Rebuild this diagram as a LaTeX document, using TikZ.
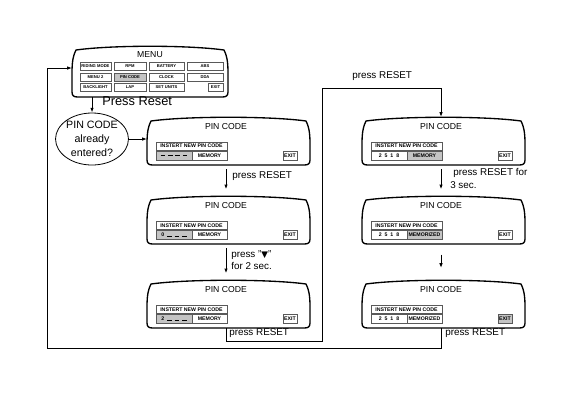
\documentclass[tikz,border=0pt]{standalone}
\usepackage{fontspec}
\setmainfont{Liberation Sans}
\newfontfamily\symfnt{DejaVu Sans}
\usetikzlibrary{arrows.meta,shapes.geometric,calc}
\definecolor{lg}{RGB}{196,196,196}
\newcommand\dsh{\rule[-0.2pt]{3.4pt}{0.55pt}}
\newcommand\gp{\hspace{2.2pt}}
\begin{document}
\begin{tikzpicture}[x=0.75pt,y=-0.75pt,
  conn/.style={line width=0.7pt},
  arr/.style={conn,-{Latex[length=3.6pt,width=2.6pt]}},
  panel/.style={line width=1pt,line join=round},
  ibox/.style={draw=black!65,line width=0.5pt},
  tiny/.style={font=\fontsize{3.9}{4}\selectfont\bfseries,inner sep=0},
  ctxt/.style={font=\fontsize{3.1}{4}\selectfont\bfseries,inner sep=0},
  lbl/.style={font=\fontsize{7.4}{8}\selectfont,inner sep=0,anchor=west},
  pics/frame/.style 2 args={code={
    \draw[panel] (4,4) .. controls (40,-1) and (#1-40,-1) .. (#1-4,4)
       .. controls (#1,12) and (#1,20) .. (#1,30) -- (#1,#2-5)
       .. controls (#1,#2-1) and (#1-2,#2) .. (#1-6,#2) -- (6,#2)
       .. controls (2,#2) and (0,#2-1) .. (0,#2-5) -- (0,30)
       .. controls (0,20) and (0,12) .. (4,4) -- cycle;
  }},
  pics/lcd/.style n args={5}{code={
    \pic (-f) at (0,0) {frame={163}{48}};
    \node[font=\fontsize{6.5}{7}\selectfont,inner sep=0] (-t) at (79,10) {PIN CODE};
    \draw[ibox] (9,25) rectangle (80,33);
    \node[tiny] (-a) at (44.5,29.2) {INSTERT NEW PIN CODE};
    \draw[ibox,fill=#2] (9,34) rectangle (45,43);
    \node[tiny] (-b) at (27,38.7) {#1};
    \draw[ibox,fill=#4] (45,34) rectangle (80,43);
    \node[tiny] (-c) at (62.5,38.7) {#3};
    \draw[ibox,fill=#5] (136,34) rectangle (150,43);
    \node[tiny] (-d) at (143,38.7) {EXIT};
    \coordinate (-in) at (79,0);
    \coordinate (-out) at (79,48);
    \coordinate (-left) at (0,25);
  }}]
\useasboundingbox (0,0) rectangle (573,405);

% menu
\pic (menu) at (72,46) {frame={156}{51}};
\node[font=\fontsize{6.5}{7}\selectfont,inner sep=0] (mt) at (150,55) {MENU};
\draw[ibox] (80,62) rectangle (111,70);   \node[ctxt] (m11) at (95.5,66.2) {RIDING MODE};
\draw[ibox] (114,62) rectangle (146,70);  \node[ctxt] (m12) at (130,66.2) {RPM};
\draw[ibox] (149,62) rectangle (184,70);  \node[ctxt] (m13) at (166.5,66.2) {BATTERY};
\draw[ibox] (187,62) rectangle (223,70);  \node[ctxt] (m14) at (205,66.2) {ABS};
\draw[ibox] (80,73) rectangle (111,81);   \node[ctxt] (m21) at (95.5,77.2) {MENU 2};
\draw[ibox,fill=lg] (114,73) rectangle (146,81);  \node[ctxt] (m22) at (130,77.2) {PIN CODE};
\draw[ibox] (149,73) rectangle (184,81);  \node[ctxt] (m23) at (166.5,77.2) {CLOCK};
\draw[ibox] (187,73) rectangle (223,81);  \node[ctxt] (m24) at (205,77.2) {DDA};
\draw[ibox] (80,83) rectangle (111,91);   \node[ctxt] (m31) at (95.5,87.2) {BACKLIGHT};
\draw[ibox] (114,83) rectangle (146,91);  \node[ctxt] (m32) at (130,87.2) {LAP};
\draw[ibox] (149,83) rectangle (184,91);  \node[ctxt] (m33) at (166.5,87.2) {SET UNITS};
\draw[ibox] (208,83) rectangle (223,91);  \node[ctxt] (m34) at (215.5,87.2) {EXIT};
\coordinate (menuw) at (72,68);
\coordinate (menub) at (92,97);
\node[font=\fontsize{9.6}{10}\selectfont,inner sep=0,anchor=west] (pr) at (102,101) {Press Reset};

% question
\node[draw,ellipse,line width=0.6pt,minimum width=52pt,minimum height=39pt,inner sep=0,
  align=center,font=\fontsize{8}{10.5}\selectfont] (q) at (92,139) {PIN CODE\\already\\entered?};
\draw[arr] (menub) -- (q.north);

% screens
\pic (s1) at (147,117) {lcd={\dsh\gp\dsh\gp\dsh\gp\dsh}{lg}{MEMORY}{white}{white}};
\pic (s2) at (147,196) {lcd={0\gp\dsh\gp\dsh\gp\dsh}{lg}{MEMORY}{white}{white}};
\pic (s3) at (147,280) {lcd={2\gp\dsh\gp\dsh\gp\dsh}{lg}{MEMORY}{white}{white}};
\pic (s4) at (362,117) {lcd={2\gp 5\gp 1\gp 8}{white}{MEMORY}{lg}{white}};
\pic (s5) at (362,196) {lcd={2\gp 5\gp 1\gp 8}{white}{MEMORIZED}{lg}{white}};
\pic (s6) at (362,280) {lcd={2\gp 5\gp 1\gp 8}{white}{MEMORIZED}{white}{lg}};

\draw[arr] (q.east) -- (q.east -| s1-left);

\draw[arr,shorten <=3pt,shorten >=5pt] (s1-out) -- (s2-in);
\node[lbl] (t1) at (232,176) {press RESET};
\draw[arr,shorten <=3pt,shorten >=5pt] (s2-out) -- (s3-in);
\node[lbl] (t2) at (231,255) {press "{\symfnt\fontsize{6.5}{8}\selectfont ▼}"};
\node[lbl] (t3) at (231,266) {for 2 sec.};

\coordinate (c1) at (322,341);
\coordinate (c2) at (322,88);
\draw[arr] (s3-out) |- (c1) -- (c2) -| (s4-in);
\node[lbl] (t4) at (229,333) {press RESET};
\node[lbl] (t5) at (352,76) {press RESET};

\draw[arr,shorten <=3pt,shorten >=5pt] (s4-out) -- (s5-in);
\node[lbl] (t6) at (453,173) {press RESET for};
\node[lbl] (t7) at (450,185) {3 sec.};
\draw[arr,shorten <=8pt,shorten >=9pt] (s5-out) -- (s6-in);

\coordinate (c3) at (47,348);
\coordinate (c4) at (47,68);
\draw[arr] (s6-out) |- (c3) -- (c4) -- (menuw);
\node[lbl] (t8) at (445,333) {press RESET};
\end{tikzpicture}
\end{document}
